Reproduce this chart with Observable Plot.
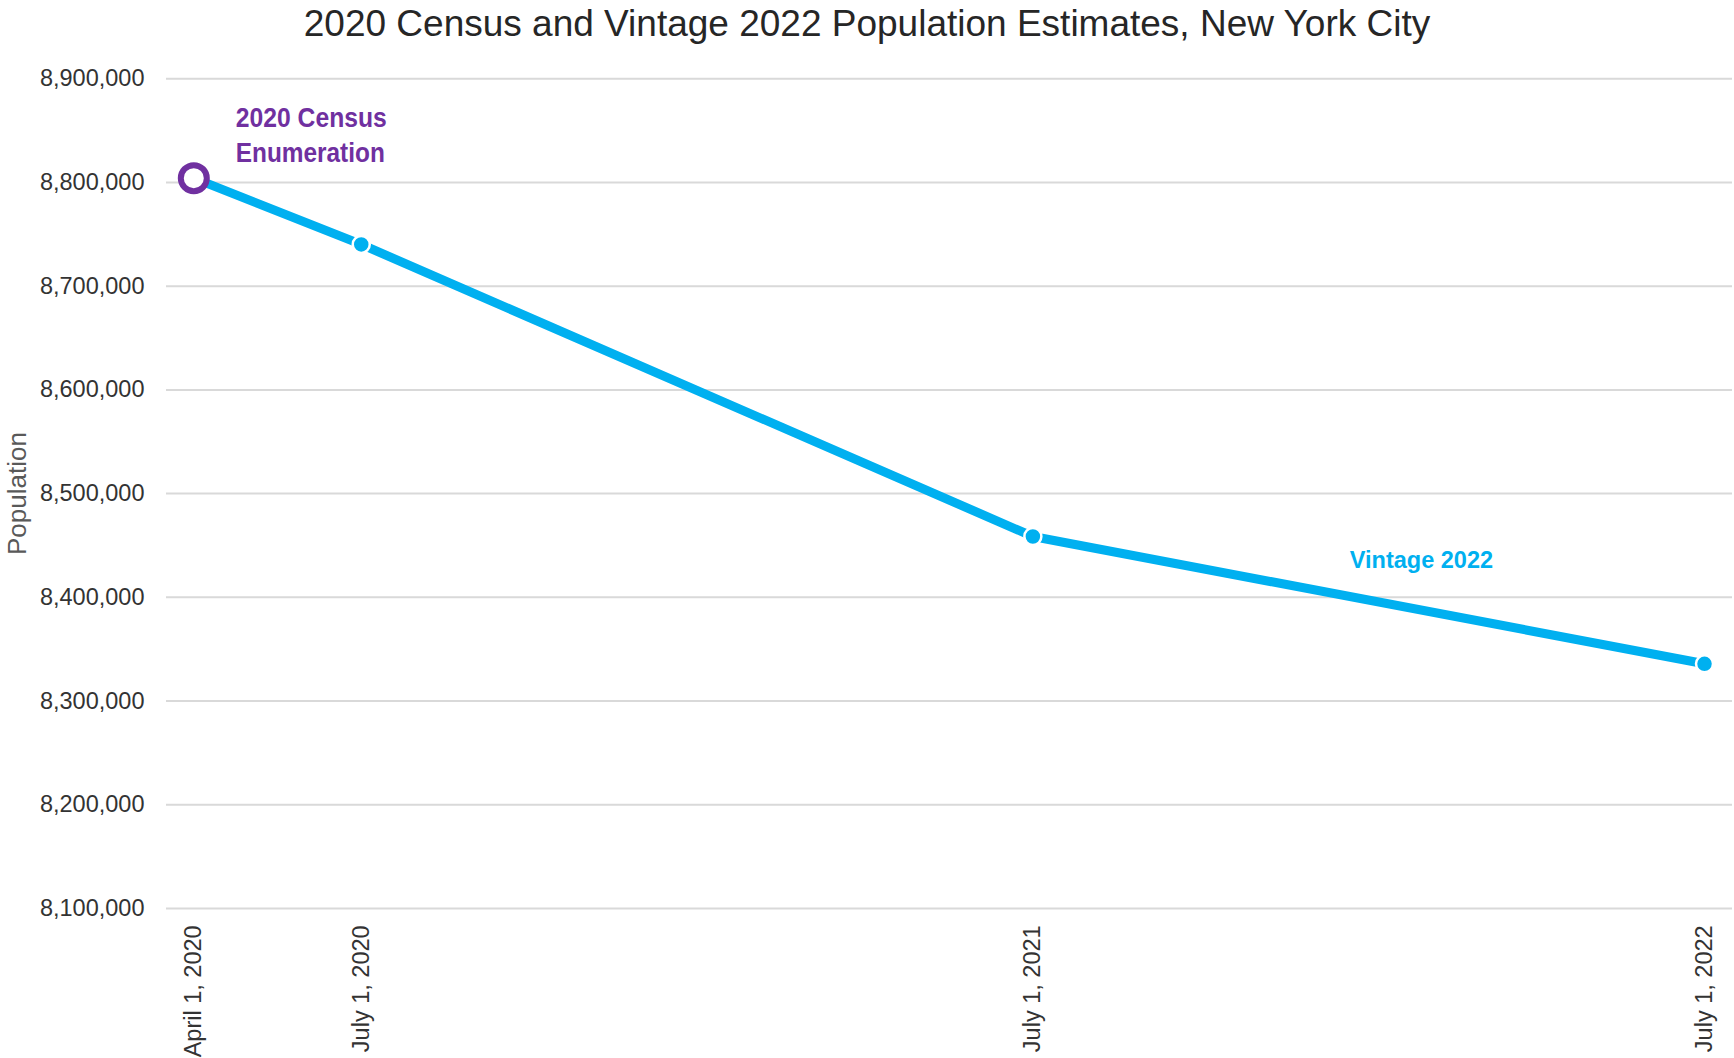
<!DOCTYPE html>
<html><head><meta charset="utf-8">
<script src="https://cdn.jsdelivr.net/npm/d3@7"></script>
<script src="https://cdn.jsdelivr.net/npm/@observablehq/plot@0.6"></script>
<style>
html,body{margin:0;padding:0;background:#fff;}
#title{height:50px;line-height:48px;font-size:37px;font-family:"Liberation Sans",Arial,sans-serif;color:#262626;text-align:center;width:1734px;white-space:nowrap;}
#chart svg{display:block;}
</style></head><body>
<div id="title">2020 Census and Vintage 2022 Population Estimates, New York City</div>
<div id="chart"></div>
<script>
// ---- data ----
const dates = ["2020-04-01", "2020-07-01", "2021-07-01", "2022-07-01"];
const population = [8804190, 8740292, 8458630, 8335897];
const pointTypes = ["census", "estimate", "estimate", "estimate"];
const xTickLabels = ["April 1, 2020", "July 1, 2020", "July 1, 2021", "July 1, 2022"];
const yTicks = [8100000, 8200000, 8300000, 8400000, 8500000, 8600000, 8700000, 8800000, 8900000];
const censusLabel = "2020 Census\nEnumeration";
const vintageLabel = "Vintage 2022";
const yAxisTitle = "Population";

// ---- table ----
const rows = dates.map((d, i) => ({date: new Date(d + "T00:00:00Z"), pop: population[i], type: pointTypes[i]}));
const censusRows = rows.filter(r => r.type === "census");
const estRows = rows.filter(r => r.type === "estimate");
const tickDates = rows.map(r => r.date);

const BLUE = "#00B0F0", PURPLE = "#7030A0";
const FONT = "'Liberation Sans', Arial, sans-serif";

const chart = Plot.plot({
  width: 1734,
  height: 1008,
  marginTop: 28.3,
  marginBottom: 150.1,
  marginLeft: 166,
  marginRight: 2,
  style: {fontFamily: FONT, background: "#fff", overflow: "visible"},
  x: {type: "utc", domain: [tickDates[0], tickDates[tickDates.length - 1]], insetLeft: 27.3, insetRight: 28},
  y: {domain: [8100000, 8900000]},
  marks: [
    Plot.gridY(yTicks, {stroke: "#d9d9d9", strokeWidth: 2, strokeOpacity: 1}),
    Plot.axisY(yTicks, {tickSize: 0, tickPadding: 22, tickFormat: d3.format(","), fontSize: 23.5, fill: "#333", label: null}),
    Plot.axisX(tickDates, {tickSize: 0, tickPadding: 17, tickRotate: -90, tickFormat: (d, i) => xTickLabels[i], fontSize: 23.5, fill: "#333", label: null}),
    Plot.text([yAxisTitle], {frameAnchor: "left", rotate: -90, dx: -149, dy: 0, fontSize: 26, fill: "#595959", textAnchor: "middle", lineAnchor: "middle"}),
    Plot.line(rows, {x: "date", y: "pop", stroke: BLUE, strokeWidth: 9, strokeLinejoin: "round"}),
    Plot.dot(estRows, {x: "date", y: "pop", r: 8.5, fill: BLUE, stroke: "#fff", strokeWidth: 2.5}),
    Plot.dot(censusRows, {x: "date", y: "pop", r: 13, fill: "#fff", stroke: PURPLE, strokeWidth: 6}),
    Plot.text(censusRows, {x: "date", y: "pop", text: () => censusLabel, textAnchor: "start", lineAnchor: "top", lineHeight: 1.296, dx: 42, dy: -75.5, fontSize: 27, fontWeight: "bold", fill: PURPLE, className: "census-label"}),
    Plot.text(estRows.slice(-1), {x: "date", y: "pop", text: () => vintageLabel, textAnchor: "start", lineAnchor: "middle", dx: -354.7, dy: -103, fontSize: 23.5, fontWeight: "bold", fill: BLUE})
  ]
});
document.getElementById("chart").appendChild(chart);
// condense the census annotation to match the narrow face of the original
const widths = [151, 149];
chart.querySelectorAll(".census-label tspan").forEach((t, i) => {
  t.setAttribute("textLength", widths[i] ?? 150);
  t.setAttribute("lengthAdjust", "spacingAndGlyphs");
});
</script>
</body></html>
